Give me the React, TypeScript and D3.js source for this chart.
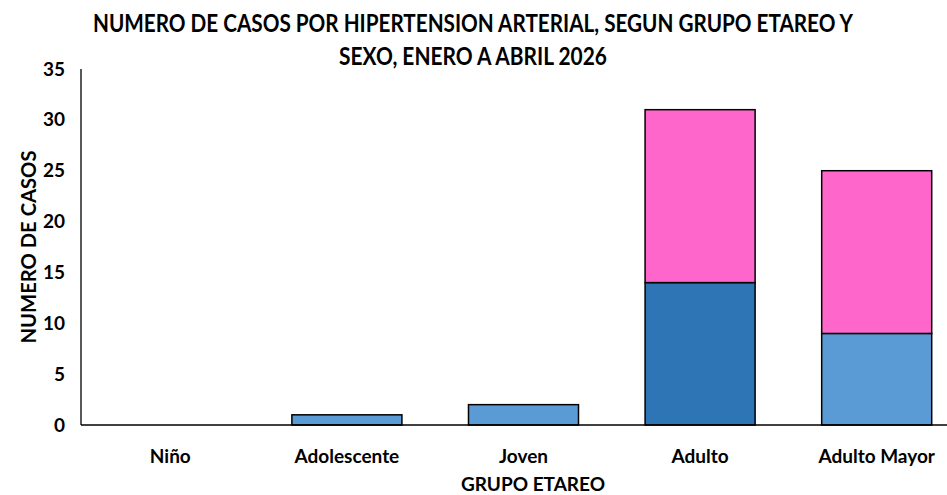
import { useRef, useEffect } from "react";
import * as d3 from "d3";

const categories = ["Niño", "Adolescente", "Joven", "Adulto", "Adulto Mayor"];
const masculino = [0, 1, 2, 14, 9];
const femenino = [0, 0, 0, 17, 16];
const masculinoColors = ["#5B9BD5", "#5B9BD5", "#5B9BD5", "#2E75B6", "#5B9BD5"];
const femeninoColor = "#FF66CC";
const yTicks = [0, 5, 10, 15, 20, 25, 30, 35];
const titleLines = [
  "NUMERO DE CASOS POR HIPERTENSION ARTERIAL, SEGUN GRUPO ETAREO Y",
  "SEXO, ENERO A ABRIL 2026",
];

const FONT = "Lato, 'Open Sans', sans-serif";

const App = () => {
  const svgRef = useRef(null);

  useEffect(() => {
    d3.select(svgRef.current).selectAll("*").remove();

    const width = 947;
    const height = 495;

    const svg = d3
      .select(svgRef.current)
      .attr("width", width)
      .attr("height", height)
      .style("font-family", FONT);

    const x = d3
      .scaleBand()
      .domain(categories)
      .range([82, 965])
      .paddingInner(0.377)
      .paddingOuter(0.1885);

    const y = d3.scaleLinear().domain([0, 35]).range([425, 69]);

    const rows = categories.map((c, i) => ({
      cat: c,
      idx: i,
      masculino: masculino[i],
      femenino: femenino[i],
    }));

    const stack = d3.stack().keys(["masculino", "femenino"]);
    const series = stack(rows);

    series.forEach((s) => {
      svg
        .append("g")
        .selectAll("rect")
        .data(s.filter((d) => d[1] - d[0] > 0))
        .enter()
        .append("rect")
        .attr("x", (d) => x(d.data.cat))
        .attr("width", x.bandwidth())
        .attr("y", (d) => y(d[1]))
        .attr("height", (d) => y(d[0]) - y(d[1]))
        .attr("fill", (d) =>
          s.key === "masculino" ? masculinoColors[d.data.idx] : femeninoColor
        )
        .attr("stroke", "#000")
        .attr("stroke-width", 1.5);
    });

    // ejes
    svg
      .append("line")
      .attr("x1", 81)
      .attr("x2", width)
      .attr("y1", y(0))
      .attr("y2", y(0))
      .attr("stroke", "#000")
      .attr("stroke-width", 1.3);
    svg
      .append("line")
      .attr("x1", 81)
      .attr("x2", 81)
      .attr("y1", y(0))
      .attr("y2", y(35))
      .attr("stroke", "#000")
      .attr("stroke-width", 1.3);

    svg
      .append("g")
      .selectAll("text")
      .data(yTicks)
      .enter()
      .append("text")
      .attr("x", 65)
      .attr("y", (d) => y(d) + 6.5)
      .attr("text-anchor", "end")
      .style("font-size", "19px")
      .style("font-weight", "bold")
      .text((d) => d);

    svg
      .append("g")
      .selectAll("text")
      .data(categories)
      .enter()
      .append("text")
      .attr("x", (d) => x(d) + x.bandwidth() / 2)
      .attr("y", 463)
      .attr("text-anchor", "middle")
      .style("font-size", "19px")
      .style("font-weight", "bold")
      .text((d) => d);

    svg
      .append("text")
      .attr("x", 533)
      .attr("y", 491)
      .attr("text-anchor", "middle")
      .style("font-size", "19px")
      .style("font-weight", "bold")
      .text("GRUPO ETAREO");

    svg
      .append("text")
      .attr("transform", `translate(36,${(y(0) + y(35)) / 2}) rotate(-90)`)
      .attr("text-anchor", "middle")
      .attr("textLength", 193)
      .attr("lengthAdjust", "spacingAndGlyphs")
      .style("font-size", "20px")
      .style("font-weight", "bold")
      .text("NUMERO DE CASOS");

    const titleWidths = [760, 268];
    svg
      .append("g")
      .selectAll("text")
      .data(titleLines)
      .enter()
      .append("text")
      .attr("x", 473)
      .attr("y", (d, i) => 32 + i * 33)
      .attr("text-anchor", "middle")
      .attr("textLength", (d, i) => titleWidths[i])
      .attr("lengthAdjust", "spacingAndGlyphs")
      .style("font-size", "25px")
      .style("font-weight", "bold")
      .text((d) => d);
  }, []);

  return (
    <div
      style={{
        position: "fixed",
        left: 0,
        top: 0,
        width: "947px",
        height: "495px",
        overflow: "hidden",
        background: "#fff",
      }}
    >
      <svg ref={svgRef} style={{ display: "block" }}></svg>
    </div>
  );
};

export default App;
